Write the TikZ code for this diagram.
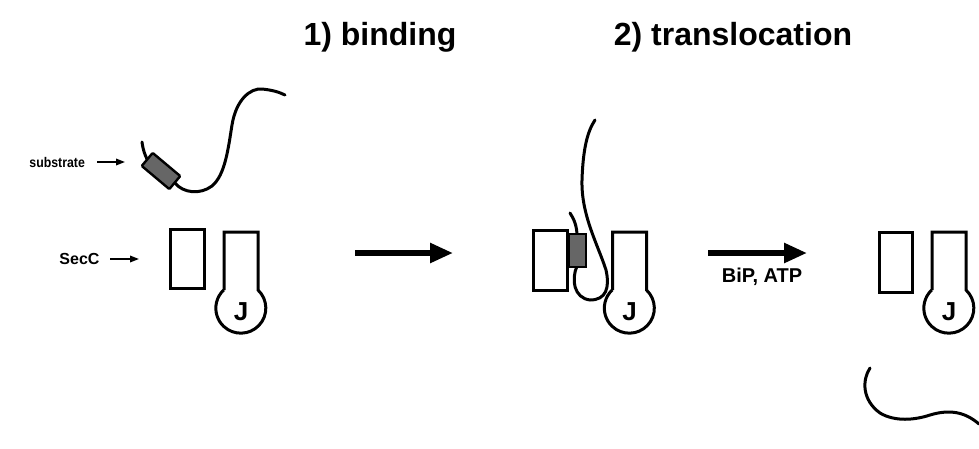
\documentclass[tikz,border=0pt]{standalone}
\usepackage{fontspec}
\setmainfont{Liberation Sans}
\usetikzlibrary{arrows.meta}
\tikzset{
  shapeline/.style={line width=3pt, line join=miter},
  strand/.style={line width=3pt, line cap=round},
  blob/.style={draw, fill=black!60, line width=2.4pt, inner sep=0pt},
  bigarrow/.style={line width=5.5pt, -{Triangle[length=23pt,width=19pt]}},
  smallarrow/.style={line width=1.7pt, -{Triangle[length=9pt,width=6.5pt]}},
  titletext/.style={font=\fontsize{32}{38}\selectfont\bfseries, anchor=base},
  smalllbl/.style={font=\fontsize{14}{17}\selectfont\bfseries, anchor=east, xscale=0.88, transform shape},
  medlbl/.style={font=\fontsize{16}{19}\selectfont\bfseries, anchor=east},
  jlabel/.style={font=\fontsize{26}{30}\selectfont\bfseries},
}
\newcommand{\jmol}[2]{%
  \draw[shapeline] (#1-17,290) -- (#1-17,232) -- (#1+17,232) -- (#1+17,290)
    arc[start angle=-46.6, end angle=226.6, radius=25];
  \node[jlabel] (#2) at (#1,312) {J};
}
\begin{document}
\begin{tikzpicture}[x=1pt,y=-1pt]
\useasboundingbox (0,0) rectangle (979,448);

% titles
\node[titletext] (t1) at (380,45) {1) binding};
\node[titletext] (t2) at (733,45) {2) translocation};

% ---------- figure 1 ----------
\node[smalllbl] (sublbl) at (88,162) {substrate};
\coordinate (subtip) at (125,162);
\draw[smallarrow] ([xshift=9pt]sublbl.east) -- (subtip);

\node[medlbl] (secc) at (103,259) {SecC};
\coordinate (secctip) at (139,259);
\draw[smallarrow] ([xshift=7pt]secc.east) -- (secctip);

\coordinate (sub0) at (142,142);
\coordinate (boxin) at (147,159);
\coordinate (boxout) at (175,183);
\coordinate (sub1) at (285,95);
\draw[strand] (sub0) .. controls (143,150) and (145,155) .. (boxin) -- (boxout)
  .. controls (183,193) and (200,195) .. (212,186)
  .. controls (225,175) and (228,150) .. (232,125)
  .. controls (236,100) and (250,88) .. (262,89)
  .. controls (272,90) and (279,92) .. (sub1);
\node[blob, rounded corners=1pt, rotate=-40, minimum width=36pt, minimum height=17pt] (subbox) at (161,171) {};

\draw[shapeline] (170,229) rectangle (204,288);
\jmol{241}{j1}

% arrow 1
\coordinate (a1s) at (355,253);
\coordinate (a1e) at (453,253);
\draw[bigarrow] (a1s) -- (a1e);

% ---------- figure 2 ----------
\draw[shapeline] (533,230) rectangle (567,290);
\coordinate (s2a) at (570,213);
\coordinate (s2b) at (595,120);
\draw[strand] (s2a) .. controls (574,219) and (577,226) .. (577,236) -- (577,266)
  .. controls (571,280) and (574,298) .. (590,300)
  .. controls (606,300) and (610,288) .. (606,270)
  .. controls (598,245) and (581,215) .. (582,180)
  .. controls (583,150) and (587,132) .. (s2b);
\node[blob, minimum width=17pt, minimum height=33pt] (bbox) at (577.5,250.5) {};
\jmol{629.5}{j2}

% arrow 2
\coordinate (a2s) at (708,253);
\coordinate (a2e) at (807,253);
\draw[bigarrow] (a2s) -- (a2e);
\node[font=\fontsize{20}{24}\selectfont\bfseries] (bip) at (762,277) {BiP, ATP};

% ---------- figure 3 ----------
\draw[shapeline] (879,232) rectangle (912,292);
\jmol{949}{j3}
\coordinate (s3a) at (870,368);
\coordinate (s3b) at (979,424);
\draw[strand] (s3a) .. controls (862,380) and (862,400) .. (880,413)
  .. controls (895,422) and (915,420) .. (930,415)
  .. controls (950,409) and (965,412) .. (s3b);
\end{tikzpicture}
\end{document}
